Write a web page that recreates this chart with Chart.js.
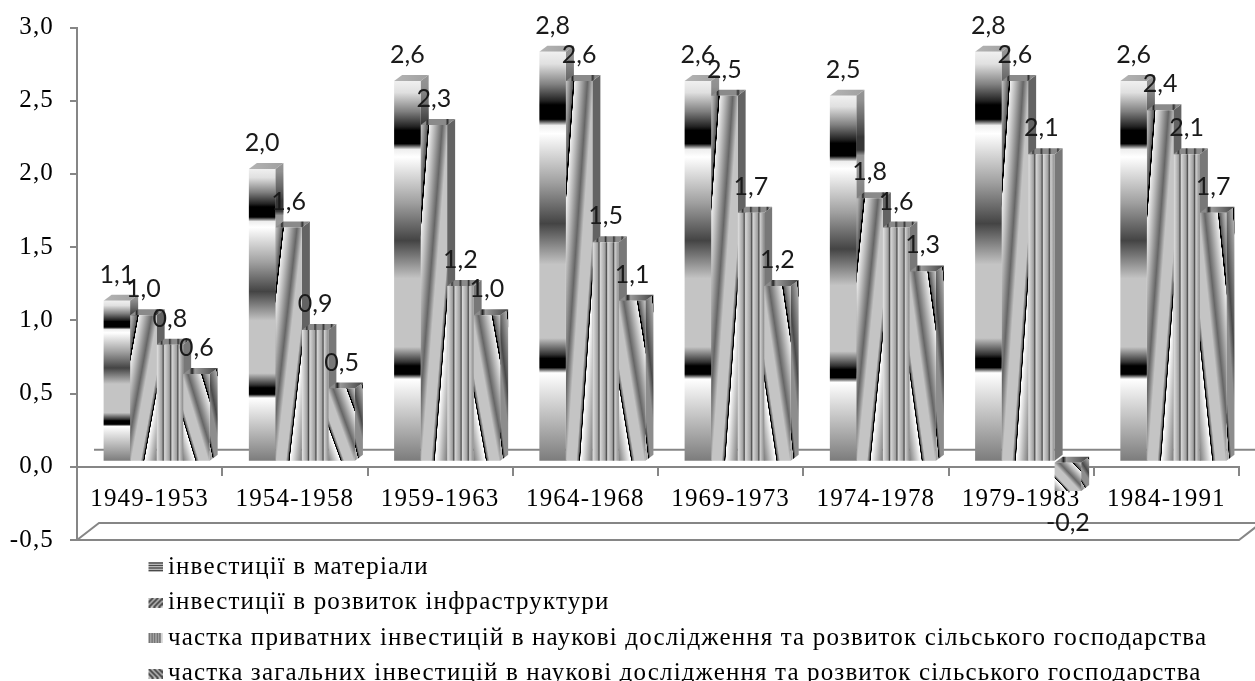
<!DOCTYPE html>
<html lang="uk">
<head>
<meta charset="UTF-8">
<title>Інвестиції</title>
<script src="https://cdn.jsdelivr.net/npm/chart.js"></script>
<style>
  html, body { margin: 0; padding: 0; background: #fff; }
  canvas { display: block; }
</style>
</head>
<body>
<canvas id="myChart" width="1255" height="681"></canvas>
<script>
const periods = ['1949-1953', '1954-1958', '1959-1963', '1964-1968', '1969-1973', '1974-1978', '1979-1983', '1984-1991'];
const materials = [1.1, 2.0, 2.6, 2.8, 2.6, 2.5, 2.8, 2.6];
const infrastructure = [1.0, 1.6, 2.3, 2.6, 2.5, 1.8, 2.6, 2.4];
const privateShare = [0.8, 0.9, 1.2, 1.5, 1.7, 1.6, 2.1, 2.1];
const totalShare = [0.6, 0.5, 1.0, 1.1, 1.2, 1.3, -0.2, 1.7];
const seriesNames = [
  'інвестиції в матеріали',
  'інвестиції в розвиток інфраструктури',
  'частка приватних інвестицій в наукові дослідження та розвиток сільського господарства',
  'частка загальних інвестицій в наукові дослідження та розвиток сільського господарства'
];

const axisGray = '#868686';
const barShift = { x: 7, y: -5 };   // bars stand a little inside the floor
const barDepth = { x: 8, y: -6 };
const wallDepth = { x: 22, y: -17 };

// "chrome" ramp of the first series, the slanted ones use it with thinner black lines
const chromeStops = [
  [0, '#f0f0f0'], [0.03, '#e0e0e0'], [0.08, '#808080'], [0.12, '#222'], [0.13, '#000'], [0.165, '#000'], [0.18, '#eee'],
  [0.2, '#fff'], [0.32, '#a0a0a0'], [0.42, '#444'], [0.46, '#777'], [0.52, '#c4c4c4'], [0.7, '#c4c4c4'],
  [0.74, '#333'], [0.75, '#000'], [0.772, '#000'], [0.785, '#fff'], [1, '#7c7c7c']
];
const slantStops = [
  [0, '#c8c8c8'], [0.08, '#8a8a8a'], [0.135, '#555'], [0.14, '#000'], [0.16, '#000'], [0.165, '#eee'],
  [0.27, '#b5b5b5'], [0.41, '#666'], [0.46, '#8e8e8e'], [0.52, '#c4c4c4'], [0.7, '#c4c4c4'],
  [0.745, '#555'], [0.75, '#000'], [0.765, '#000'], [0.772, '#fff'], [1, '#7c7c7c']
];
const stripeStops = [
  [0, '#e4e4e4'], [0.2, '#a0a0a0'], [0.25, '#4c4c4c'], [0.3, '#d6d6d6'], [0.48, '#a0a0a0'], [0.53, '#4c4c4c'],
  [0.58, '#d6d6d6'], [0.75, '#a0a0a0'], [0.8, '#4c4c4c'], [0.85, '#cfcfcf'], [1, '#8c8c8c']
];
const capStops = [
  [[0, '#b4b4b4'], [1, '#a0a0a0']],
  [[0, '#8a8a8a'], [0.14, '#8a8a8a'], [0.19, '#222'], [0.25, '#8a8a8a'], [0.72, '#8a8a8a'], [0.78, '#333'], [0.84, '#8a8a8a'], [1, '#7c7c7c']],
  [[0, '#8a8a8a'], [0.1, '#8a8a8a'], [0.14, '#333'], [0.2, '#8a8a8a'], [0.34, '#8a8a8a'], [0.38, '#333'], [0.44, '#8a8a8a'],
    [0.58, '#8a8a8a'], [0.62, '#333'], [0.68, '#8a8a8a'], [0.82, '#8a8a8a'], [0.86, '#333'], [0.92, '#8a8a8a'], [1, '#8a8a8a']],
  [[0, '#8a8a8a'], [0.18, '#8a8a8a'], [0.26, '#222'], [0.34, '#9a9a9a'], [0.6, '#777'], [1, '#444']]
];

function addStops(grad, stops) {
  stops.forEach(s => grad.addColorStop(s[0], s[1]));
  return grad;
}

// slant follows the box of the bar, so tall bars get steeper lines
function slantGradient(ctx, l, t, w, h, mirror) {
  const k = 2 * w * h / (w * w + h * h);
  const x0 = mirror ? l + w : l;
  const dx = (mirror ? -h : h) * k;
  return addStops(ctx.createLinearGradient(x0, t, x0 + dx, t + w * k), slantStops);
}

function barFill(ctx, index, l, t, w, h) {
  if (index === 0) return addStops(ctx.createLinearGradient(0, t, 0, t + h), chromeStops);
  if (index === 1) return slantGradient(ctx, l, t, w, h, false);
  if (index === 2) return addStops(ctx.createLinearGradient(l, 0, l + w, 0), stripeStops);
  return slantGradient(ctx, l, t, w, h, true);
}

// legend mark: 4px of empty room on the left so the text can sit close to it
function swatch(index) {
  const c = document.createElement('canvas');
  c.width = 18;
  c.height = 10;
  const g = c.getContext('2d');
  g.beginPath();
  g.rect(4, 0, 14, 10);
  g.clip();
  g.fillStyle = '#ddd';
  g.fillRect(4, 0, 14, 10);
  g.strokeStyle = '#4a4a4a';
  g.lineWidth = 1.4;
  g.beginPath();
  if (index === 0) {
    for (let y = 1; y < 10; y += 2.5) { g.moveTo(4, y); g.lineTo(18, y); }
  } else if (index === 2) {
    for (let x = 5; x < 18; x += 2.6) { g.moveTo(x, 0); g.lineTo(x, 10); }
  } else {
    g.lineWidth = 2.4;
    for (let x = -6; x < 28; x += 5) {
      g.moveTo(x, index === 1 ? 10 : 0);
      g.lineTo(x + 10, index === 1 ? 0 : 10);
    }
  }
  g.stroke();
  return c;
}

function faces(ctx, index, bar) {
  const w = bar.width;
  const l = bar.x - w / 2;
  const r = l + w;
  const top = Math.min(bar.y, bar.base);
  const bottom = Math.max(bar.y, bar.base);
  const h = bottom - top;
  const dx = barDepth.x;
  const dy = barDepth.y;

  // side, the first and last series carry their fill over in a darker tone
  ctx.beginPath();
  ctx.moveTo(r, top);
  ctx.lineTo(r + dx, top + dy);
  ctx.lineTo(r + dx, bottom + dy);
  ctx.lineTo(r, bottom);
  ctx.closePath();
  if (index === 3) {
    ctx.fillStyle = slantGradient(ctx, r - 6, top + dy, dx + 10, h, true);
    ctx.fill();
    ctx.fillStyle = 'rgba(0,0,0,0.28)';
  } else if (index === 0) {
    ctx.fillStyle = barFill(ctx, 0, r, top + dy, dx, h);
    ctx.fill();
    ctx.fillStyle = 'rgba(90,90,90,0.6)';
  } else {
    ctx.fillStyle = index === 1 ? '#636363' : '#787878';
  }
  ctx.fill();

  // top
  ctx.beginPath();
  ctx.moveTo(l, top);
  ctx.lineTo(l + dx, top + dy);
  ctx.lineTo(r + dx, top + dy);
  ctx.lineTo(r, top);
  ctx.closePath();
  ctx.fillStyle = addStops(ctx.createLinearGradient(l, 0, r + dx, 0), capStops[index]);
  ctx.fill();
}

const bars3d = {
  id: 'bars3d',
  beforeDraw(chart) {
    const { ctx, scales: { x, y } } = chart;
    const base = y.bottom;
    const zero = y.getPixelForValue(0);
    ctx.save();
    ctx.strokeStyle = axisGray;
    ctx.lineWidth = 2;
    ctx.beginPath();
    ctx.moveTo(x.left - 7, base);
    ctx.lineTo(x.right, base);
    ctx.lineTo(x.right + wallDepth.x, base + wallDepth.y);
    ctx.lineTo(x.left + wallDepth.x, base + wallDepth.y);
    ctx.lineTo(x.left, base);
    ctx.moveTo(x.left + wallDepth.x - 5, zero + wallDepth.y);
    ctx.lineTo(chart.width, zero + wallDepth.y);
    ctx.stroke();
    ctx.restore();
    // axis and legend text in the picture is stretched a bit
    ctx.letterSpacing = '1.15px';
  },
  beforeDatasetsDraw(chart) {
    const ctx = chart.ctx;
    ctx.letterSpacing = '0px';
    ctx.save();
    ctx.translate(barShift.x, barShift.y);
    chart.data.datasets.forEach((ds, i) => {
      chart.getDatasetMeta(i).data.forEach(bar => {
        faces(ctx, i, bar);
        const top = Math.min(bar.y, bar.base);
        bar.options = Object.assign({}, bar.options, {
          backgroundColor: barFill(ctx, i, bar.x - bar.width / 2, top, bar.width, Math.abs(bar.base - bar.y))
        });
      });
    });
  },
  afterDatasetsDraw(chart) {
    const ctx = chart.ctx;
    ctx.font = '25px Lato';
    ctx.fillStyle = '#1a1a1a';
    ctx.textAlign = 'center';
    ctx.textBaseline = 'middle';
    chart.data.datasets.forEach((ds, i) => {
      chart.getDatasetMeta(i).data.forEach((bar, j) => {
        const v = ds.data[j];
        const ly = v < 0 ? bar.y + 32 : bar.y - 26;
        ctx.fillText(v.toFixed(1).replace('.', ','), bar.x, ly);
      });
    });
    ctx.restore();
  },
  afterLayout(chart) {
    // stack the legend rows under the plot, left aligned
    const lg = chart.legend;
    lg.left = 141;
    lg.top = 544;
    lg.right = chart.width;
    lg.bottom = lg.top + 200;
  }
};

const seriesValues = [materials, infrastructure, privateShare, totalShare];

new Chart(document.getElementById('myChart'), {
  type: 'bar',
  plugins: [bars3d],
  data: {
    labels: periods,
    datasets: seriesValues.map((values, i) => ({
      label: seriesNames[i],
      data: values,
      backgroundColor: '#999',
      borderWidth: 0,
      categoryPercentage: 0.73,
      barPercentage: 1
    }))
  },
  options: {
    responsive: false,
    animation: false,
    layout: { padding: { left: 0, right: 16, top: 27.5, bottom: 141 } },
    plugins: {
      tooltip: { enabled: false },
      legend: {
        position: 'chartArea',
        align: 'start',
        onClick: null,
        labels: {
          usePointStyle: true,
          pointStyleWidth: 4,
          boxHeight: 10,
          padding: 10.5,
          color: '#000',
          font: { family: 'Liberation Serif', size: 25 },
          generateLabels: chart => chart.data.datasets.map((ds, i) => ({
            text: ds.label,
            datasetIndex: i,
            pointStyle: swatch(i),
            fontColor: '#000'
          }))
        }
      }
    },
    scales: {
      x: {
        position: { y: 0 },
        grid: { drawOnChartArea: false, color: axisGray, lineWidth: 2, tickLength: 8 },
        border: { color: axisGray, width: 2 },
        ticks: {
          color: '#000',
          padding: 10,
          maxRotation: 0,
          autoSkip: false,
          font: { family: 'Liberation Serif', size: 25 }
        }
      },
      y: {
        min: -0.5,
        max: 3,
        afterFit: s => { s.width = 77; s.paddingTop = 0; s.paddingBottom = 0; },
        grid: { drawOnChartArea: false, color: axisGray, lineWidth: 2, tickLength: 7 },
        border: { color: axisGray, width: 2 },
        ticks: {
          stepSize: 0.5,
          color: '#000',
          padding: 16,
          font: { family: 'Liberation Serif', size: 25 },
          callback: v => v.toFixed(1).replace('.', ',')
        }
      }
    }
  }
});
</script>
</body>
</html>
